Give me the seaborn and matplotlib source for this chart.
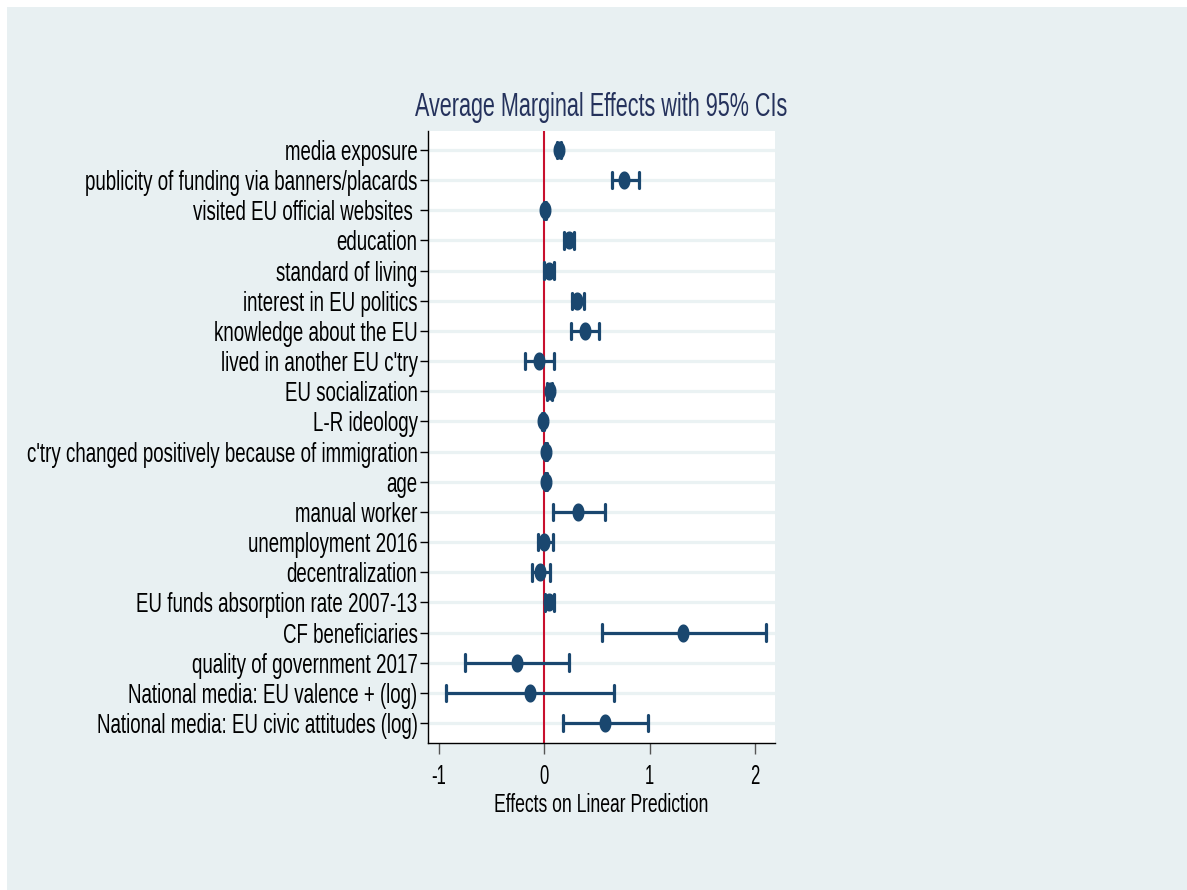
import os
import numpy as np
import pandas as pd
import matplotlib
matplotlib.use("Agg")
import matplotlib.pyplot as plt
from matplotlib import font_manager
import seaborn as sns
from matplotlib.patches import Rectangle

categories = [
    "media exposure",
    "publicity of funding via banners/placards",
    "visited EU official websites ",
    "education",
    "standard of living",
    "interest in EU politics",
    "knowledge about the EU",
    "lived in another EU c'try",
    "EU socialization",
    "L-R ideology",
    "c'try changed positively because of immigration",
    "age",
    "manual worker",
    "unemployment 2016",
    "decentralization",
    "EU funds absorption rate 2007-13",
    "CF beneficiaries",
    "quality of government 2017",
    "National media: EU valence + (log)",
    "National media: EU civic attitudes (log)",
]
estimates = [0.14, 0.76, 0.01, 0.235, 0.04, 0.31, 0.385, -0.05, 0.05, -0.015,
             0.02, 0.02, 0.32, 0.0, -0.04, 0.045, 1.32, -0.26, -0.135, 0.58]
ci_low = [0.12, 0.64, 0.0, 0.19, 0.0, 0.26, 0.255, -0.18, 0.03, -0.025,
          0.01, 0.01, 0.085, -0.06, -0.12, 0.01, 0.55, -0.75, -0.93, 0.18]
ci_high = [0.16, 0.90, 0.02, 0.28, 0.09, 0.38, 0.52, 0.09, 0.07, -0.005,
           0.03, 0.03, 0.58, 0.08, 0.05, 0.09, 2.10, 0.23, 0.665, 0.98]
xticks = [-1, 0, 1, 2]
title = "Average Marginal Effects with 95% CIs"
xlabel = "Effects on Linear Prediction"

# long table: low / estimate / high per category -> median = estimate, 100% PI = CI
rows = []
for c, lo, e, hi in zip(categories, ci_low, estimates, ci_high):
    for v in (lo, e, hi):
        rows.append({"term": c, "value": v})
df = pd.DataFrame(rows)

navy = "#1a476f"
bg = "#e8f0f2"
grid = "#eaf2f3"


def make_condensed(family_name, sx):
    """Build a horizontally condensed copy of Liberation Sans (Stata-like narrow type)."""
    from fontTools.ttLib import TTFont
    from fontTools.ttLib.tables import ttProgram
    src = font_manager.findfont(font_manager.FontProperties(family="Liberation Sans"),
                                fallback_to_default=False)
    f = TTFont(src)
    glyf = f["glyf"]
    hmtx = f["hmtx"]
    for gname in f.getGlyphOrder():
        g = glyf[gname]
        if g.isComposite():
            for comp in g.components:
                comp.x = int(round(comp.x * sx))
        elif g.numberOfContours > 0:
            g.coordinates.scale((sx, 1))
            g.coordinates.toInt()
        if hasattr(g, "program"):
            p = ttProgram.Program()
            p.fromBytecode(b"")
            g.program = p
        g.recalcBounds(glyf)
        aw, lsb = hmtx[gname]
        new_lsb = g.xMin if g.numberOfContours != 0 and hasattr(g, "xMin") else int(round(lsb * sx))
        hmtx[gname] = (int(round(aw * sx)), int(new_lsb))
    for tag in ("fpgm", "prep", "cvt ", "hdmx", "LTSH", "VDMX", "DSIG", "GPOS"):
        if tag in f:
            del f[tag]
    if "kern" in f:
        for st in f["kern"].kernTables:
            if hasattr(st, "kernTable"):
                for k in list(st.kernTable):
                    st.kernTable[k] = int(round(st.kernTable[k] * sx))
    name = f["name"]
    ps = family_name.replace(" ", "")
    for rec in list(name.names):
        if rec.nameID in (1, 4, 16, 3):
            name.setName(family_name, rec.nameID, rec.platformID, rec.platEncID, rec.langID)
        elif rec.nameID == 6:
            name.setName(ps, rec.nameID, rec.platformID, rec.platEncID, rec.langID)
        elif rec.nameID in (2, 17):
            name.setName("Regular", rec.nameID, rec.platformID, rec.platEncID, rec.langID)
    out = os.path.abspath(ps + ".ttf")
    f.save(out)
    font_manager.fontManager.addfont(out)
    return family_name


try:
    F_LAB = make_condensed("Stata Narrow Lab", 0.69)
    F_TTL = make_condensed("Stata Narrow Ttl", 0.636)
    F_XL = make_condensed("Stata Narrow Xl", 0.678)
    F_TK = make_condensed("Stata Narrow Tk", 0.6)
except Exception:
    F_LAB = F_TTL = F_XL = F_TK = "Liberation Sans"

sns.set_style("white")
plt.rcParams["font.family"] = [F_LAB, "DejaVu Sans"]
plt.rcParams["text.color"] = "black"

W, H = 1187, 890
fig = plt.figure(figsize=(W / 100, H / 100), dpi=100)
fig.patch.set_facecolor("white")
fig.patches.append(Rectangle((7 / W, 0), 1 - 7 / W, 1 - 7 / H, transform=fig.transFigure,
                             facecolor=bg, edgecolor="none", zorder=-10))

ax = fig.add_axes([428 / W, 1 - 743 / H, (775 - 428) / W, (743 - 131) / H])
ax.set_facecolor("white")

for i in range(len(categories)):
    ax.axhline(i, color=grid, lw=2.3, zorder=0)
ax.axvline(0, color="#c8102e", lw=1.5, zorder=1)

ell = np.linspace(0, 2 * np.pi, 48)
ellipse = np.column_stack([0.6 * np.cos(ell), np.sin(ell)])

sns.pointplot(data=df, x="value", y="term", order=categories, orient="h",
              estimator="median", errorbar=("pi", 100), linestyle="none",
              color=navy, capsize=0.55, marker=ellipse, markersize=11,
              err_kws={"linewidth": 2.3}, ax=ax, zorder=3)

ax.set_ylim(len(categories) - 1 + 0.66, -0.63)
ax.set_xlim(-1.104, 2.19)
ax.set_xticks(xticks)
ax.set_xticklabels([str(t) for t in xticks], family=[F_TK, "DejaVu Sans"])
for lab in ax.get_yticklabels():
    lab.set_family([F_LAB, "DejaVu Sans"])
ax.set_ylabel("")
ax.set_xlabel(xlabel, fontsize=18.6, labelpad=2, color="black", family=[F_XL, "DejaVu Sans"])
ax.set_title(title, fontsize=24.5, color="#25325c", pad=10.5, family=[F_TTL, "DejaVu Sans"])

for s in ("top", "right"):
    ax.spines[s].set_visible(False)
for s in ("left", "bottom"):
    ax.spines[s].set_color("black")
    ax.spines[s].set_linewidth(1.0)

ax.tick_params(axis="y", which="major", left=True, length=6, width=1, color="black",
               labelsize=19.5, pad=1.5, labelcolor="black")
ax.tick_params(axis="x", which="major", bottom=True, length=8, width=1, color="#555555",
               labelsize=20, pad=7, labelcolor="black")
ax.grid(False)

fig.savefig("out.png", dpi=100, facecolor=fig.get_facecolor())
